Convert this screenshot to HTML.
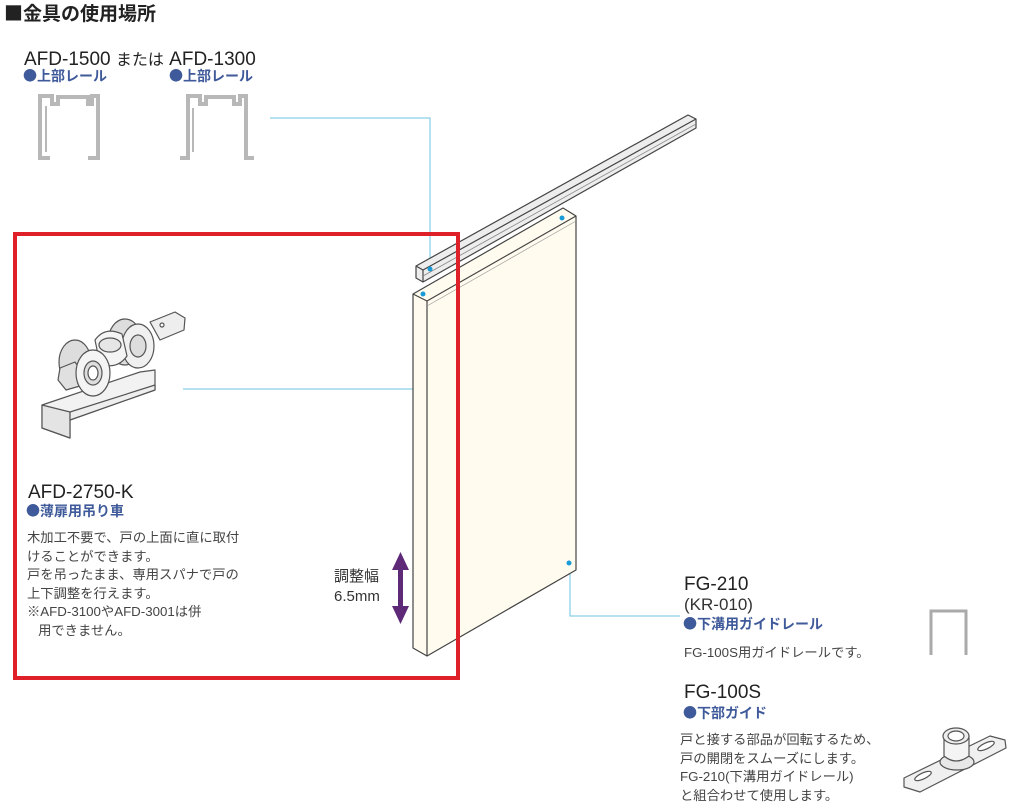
<!DOCTYPE html>
<html><head><meta charset="utf-8"><style>
html,body{margin:0;padding:0;background:#fff;}
body{width:1024px;height:811px;position:relative;overflow:hidden;font-family:"Liberation Sans","Noto Sans CJK JP",sans-serif;color:#333;}
.t{position:absolute;white-space:nowrap;}
.h{font-size:19px;color:#222;}
.b{color:#3f5a9a;font-weight:bold;font-size:14px;font-family:"Noto Sans CJK JP",sans-serif;}
.s{font-size:13.3px;line-height:18.5px;color:#444;}
.m{font-size:19px;color:#222;}
</style></head><body>
<svg width="1024" height="811" style="position:absolute;left:0;top:0">
<g fill="none" stroke="#6cc3dc" stroke-width="1">
<polyline points="270,118 430,118 430,268"/>
<polyline points="183,389 562,389 562,218"/>
<polyline points="570,565 570,616 680,616"/>
</g>
<g stroke="#444" stroke-width="1.2" stroke-linejoin="round">
<polygon points="416,266 688,115 696,119 696,128 423,282 416,278" fill="#ededed"/>
<polyline points="416,266 423,270 696,119" fill="none"/>
<line x1="423" y1="270" x2="423" y2="282"/>
<line x1="423" y1="276" x2="696" y2="124" stroke="#888" stroke-width="0.8"/>
</g>
<g stroke="#444" stroke-width="1.2" stroke-linejoin="round">
<polygon points="413,294 563,208 576,216 576,570 427,656 413,648" fill="#fffcef"/>
<polyline points="413,294 427,301 576,216" fill="none"/>
<line x1="427" y1="301" x2="427" y2="656"/>
<line x1="427" y1="306" x2="576" y2="221" stroke="#999" stroke-width="0.7"/>
</g>
<circle cx="430" cy="269" r="2.5" fill="#1a9ad6"/>
<circle cx="423" cy="294" r="2.5" fill="#1a9ad6"/>
<circle cx="562" cy="218" r="2.5" fill="#1a9ad6"/>
<circle cx="569" cy="563" r="2.5" fill="#1a9ad6"/>
<rect x="15" y="234" width="443" height="444" fill="none" stroke="#e02028" stroke-width="4"/>
<g fill="#5e2a78">
<rect x="398" y="564" width="5" height="48"/>
<polygon points="400.5,552 392,570 409,570"/>
<polygon points="400.5,624 392,606 409,606"/>
</g>
<!-- upper rail profiles -->
<g fill="none" stroke="#b8b8b8" stroke-width="4" stroke-linejoin="miter">
<polyline points="50,158 40,158 40,96 52,96 52,104 58,104 58,97 88,97 88,104 92,104 92,96 98,96 98,158 88,158"/>
<polyline points="46,106 46,152 M92,108 92,152" stroke-width="2"/>
<polyline points="180,158 188,158 188,96 200,96 200,104 206,104 206,97 234,97 234,104 240,104 240,96 246,96 246,158 254,158"/>
<polyline points="193,108 193,152 M241,108 241,152" stroke-width="2"/>
</g>
<polyline points="931,655 931,611 966,611 966,655" fill="none" stroke="#aaa" stroke-width="3"/>
<!-- roller -->
<g stroke="#555" stroke-width="1.2" fill="#eee" stroke-linejoin="round">
<polygon points="150,322 175,312 185,318 184,330 160,340"/>
<circle cx="162" cy="325" r="2" fill="#fff"/>
<polygon points="42,405 140,372 155,370 155,390 70,420 70,438 42,428" fill="#f2f2f2"/>
<polygon points="42,405 70,412 70,438 42,428" fill="#e4e4e4"/>
<polygon points="70,412 155,385 155,390 70,420"/>
<ellipse cx="125" cy="342" rx="17" ry="23" fill="#ddd"/>
<ellipse cx="138" cy="346" rx="16" ry="22" fill="#f0f0f0"/>
<ellipse cx="138" cy="346" rx="8" ry="11" fill="#ddd"/>
<ellipse cx="75" cy="362" rx="16" ry="22" fill="#ddd"/>
<path d="M95,340 q10,-14 27,-6 l5,22 q-10,14 -27,8z" fill="#f4f4f4"/>
<ellipse cx="110" cy="345" rx="11" ry="7" fill="#e6e6e6"/>
<polygon points="60,368 75,362 82,372 80,386 66,390 58,380" fill="#e0e0e0"/>
<ellipse cx="93" cy="373" rx="17" ry="23" fill="#f4f4f4"/>
<ellipse cx="93" cy="373" rx="9" ry="12" fill="#ddd"/>
<ellipse cx="93" cy="373" rx="5" ry="7" fill="#fff"/>
</g>
<g stroke="#555" stroke-width="1.2" fill="#f0f0f0" stroke-linejoin="round">
<polygon points="904,778 990,736 1005,740 1006,748 920,792 904,787"/>
<ellipse cx="923" cy="776" rx="9" ry="3" fill="#fff" transform="rotate(-25 923 776)"/>
<ellipse cx="986" cy="746" rx="9" ry="3" fill="#fff" transform="rotate(-25 986 746)"/>
<ellipse cx="957" cy="762" rx="17" ry="8" fill="#e8e8e8"/>
<path d="M944,736 v20 q12,10 25,0 v-20z" fill="#f4f4f4"/>
<ellipse cx="956" cy="736" rx="13" ry="8" fill="#eee"/>
<ellipse cx="956" cy="736" rx="8" ry="5" fill="#fff"/>
</g>
</svg>

<div class="t" style="left:4px;top:0px;font-size:19px;font-weight:bold;color:#222;font-family:'Noto Sans CJK JP',sans-serif;line-height:26px;">■金具の使用場所</div>
<div class="t h" style="left:24px;top:46px;">AFD-1500 <span style="font-size:16px">または</span> AFD-1300</div>
<div class="t b" style="left:23px;top:66px;">●上部レール</div>
<div class="t b" style="left:169px;top:66px;">●上部レール</div>

<div class="t m" style="left:28px;top:482px;">AFD-2750-K</div>
<div class="t b" style="left:26px;top:501px;">●薄扉用吊り車</div>
<div class="t s" style="left:27px;top:529px;">木加工不要で、戸の上面に直に取付<br>けることができます。<br>戸を吊ったまま、専用スパナで戸の<br>上下調整を行えます。<br>※AFD-3100やAFD-3001は併<br>&nbsp;&nbsp;&nbsp;用できません。</div>

<div class="t" style="left:334px;top:567px;font-size:15px;line-height:20px;color:#333;">調整幅<br>6.5mm</div>

<div class="t m" style="left:684px;top:574px;">FG-210</div>
<div class="t" style="left:684px;top:595px;font-size:17px;color:#333;">(KR-010)</div>
<div class="t b" style="left:683px;top:614px;">●下溝用ガイドレール</div>
<div class="t s" style="left:684px;top:644px;">FG-100S用ガイドレールです。</div>
<div class="t m" style="left:684px;top:682px;">FG-100S</div>
<div class="t b" style="left:683px;top:703px;">●下部ガイド</div>
<div class="t s" style="left:680px;top:731px;">戸と接する部品が回転するため、<br>戸の開閉をスムーズにします。<br>FG-210(下溝用ガイドレール)<br>と組合わせて使用します。</div>
</body></html>
